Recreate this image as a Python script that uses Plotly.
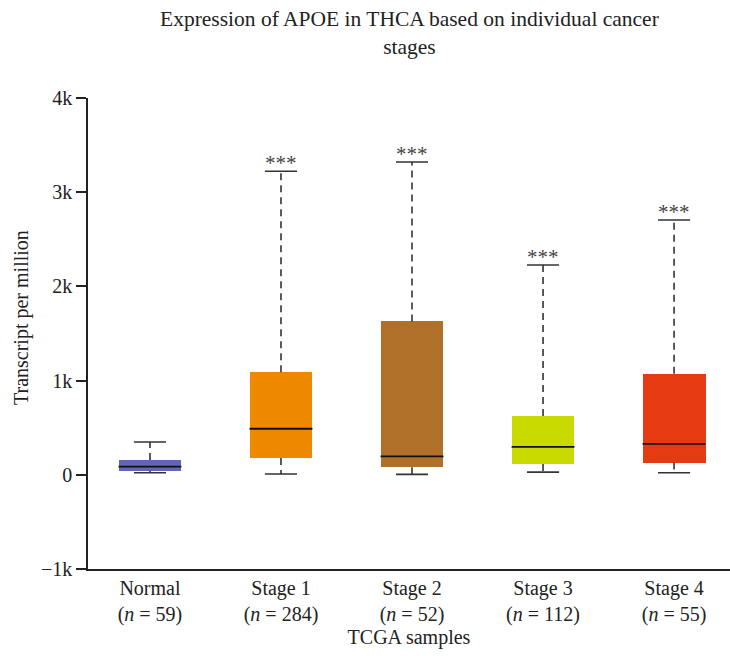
import plotly.graph_objects as go

categories = ["Normal", "Stage 1", "Stage 2", "Stage 3", "Stage 4"]
n_samples = [59, 284, 52, 112, 55]
q1 = [43, 178, 80, 114, 130]
median = [86, 489, 196, 296, 328]
q3 = [156, 1088, 1628, 625, 1072]
lower = [22, 8, 4, 28, 22]
upper = [348, 3223, 3320, 2227, 2705]
signif = ["", "***", "***", "***", "***"]
colors = ["#6366B8", "#EE8800", "#B0702A", "#C8DA00", "#E53A12"]

x_pos = list(range(len(categories)))
box_w = 0.48
cap_w = 0.245
font_family = "Liberation Serif, Times New Roman, serif"
FS = 20

fig = go.Figure()

# boxes
fig.add_trace(go.Bar(
    x=x_pos, y=[b - a for a, b in zip(q1, q3)], base=q1, width=box_w,
    marker=dict(color=colors, line=dict(width=0)), hoverinfo="skip", showlegend=False,
))

# whiskers (dashed)
wx, wy = [], []
for i in x_pos:
    wx += [i, i, None, i, i, None]
    wy += [q3[i], upper[i], None, q1[i], lower[i], None]
fig.add_trace(go.Scatter(x=wx, y=wy, mode="lines",
                         line=dict(color="#333333", width=1.6, dash="7px,5px"),
                         hoverinfo="skip", showlegend=False))

# caps
cx, cy = [], []
for i in x_pos:
    for v in (upper[i], lower[i]):
        cx += [i - cap_w / 2, i + cap_w / 2, None]
        cy += [v, v, None]
fig.add_trace(go.Scatter(x=cx, y=cy, mode="lines",
                         line=dict(color="#333333", width=1.6),
                         hoverinfo="skip", showlegend=False))

# medians
mx, my = [], []
for i in x_pos:
    mx += [i - box_w / 2, i + box_w / 2, None]
    my += [median[i], median[i], None]
fig.add_trace(go.Scatter(x=mx, y=my, mode="lines",
                         line=dict(color="#111111", width=1.8),
                         hoverinfo="skip", showlegend=False))

# significance stars
for i in x_pos:
    if signif[i]:
        fig.add_annotation(x=i, y=upper[i], text=signif[i], showarrow=False,
                           yanchor="bottom", yshift=-6,
                           font=dict(family=font_family, size=21, color="#444444"))

ticktext = [f"{c}<br>(<i>n</i> = {n})" for c, n in zip(categories, n_samples)]

fig.update_layout(
    width=730, height=656,
    margin=dict(l=88, r=0, t=98, b=87),
    paper_bgcolor="white", plot_bgcolor="white",
    font=dict(family=font_family, size=FS, color="#222222"),
    xaxis=dict(range=[-0.473, 4.427], tickvals=x_pos, ticktext=ticktext,
               showline=True, linecolor="#222222", linewidth=1.5,
               ticks="", showgrid=False, zeroline=False,
               title=dict(text="TCGA samples", standoff=2,
                          font=dict(family=font_family, size=FS))),
    yaxis=dict(range=[-1000, 4000], tickvals=[-1000, 0, 1000, 2000, 3000, 4000],
               ticktext=["\u22121k", "0", "1k", "2k", "3k", "4k"],
               showline=True, linecolor="#222222", linewidth=1.5,
               ticks="outside", ticklen=10, tickcolor="#222222", tickwidth=1.5,
               showgrid=False, zeroline=False),
    bargap=0,
)

# title
fig.add_annotation(text="Expression of APOE in THCA based on individual cancer<br>stages",
                   xref="paper", yref="paper", x=0.5, y=(569 - 5) / 471,
                   xanchor="center", yanchor="top", showarrow=False,
                   font=dict(family=font_family, size=21.5, color="#222222"))

fig.add_annotation(text="Transcript per million", xref="paper", yref="paper",
                   x=(21 - 88) / 642, y=(569 - 318) / 471, xanchor="center", yanchor="middle",
                   textangle=-90, showarrow=False,
                   font=dict(family=font_family, size=FS, color="#222222"))

fig.write_html("out.html")
